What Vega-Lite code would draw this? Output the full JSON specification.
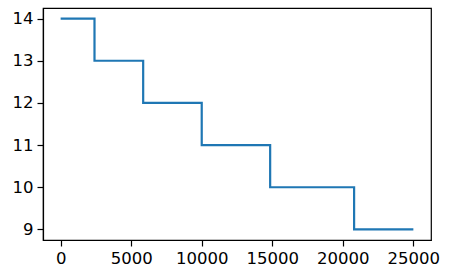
{
  "$schema": "https://vega.github.io/schema/vega-lite/v6.json",
  "width": 388,
  "height": 232,
  "autosize": {"type": "none"},
  "padding": {"left": 43, "top": 8, "right": 19, "bottom": 38},
  "background": "white",
  "config": {
    "view": {"stroke": "black", "strokeWidth": 1.2},
    "axis": {
      "grid": false,
      "domainColor": "black",
      "domainWidth": 1.2,
      "tickColor": "black",
      "tickSize": 6,
      "tickWidth": 1.2,
      "labelFont": "DejaVu Sans",
      "labelFontSize": 16.5,
      "labelColor": "black",
      "labelPadding": 4,
      "title": null
    }
  },
  "data": {
    "values": [
      {"x": 0, "y": 14},
      {"x": 2400, "y": 13},
      {"x": 5850, "y": 12},
      {"x": 10000, "y": 11},
      {"x": 14850, "y": 10},
      {"x": 20800, "y": 9},
      {"x": 25000, "y": 9}
    ]
  },
  "mark": {"type": "line", "interpolate": "step-after", "color": "#1f77b4", "strokeWidth": 2.2},
  "encoding": {
    "x": {
      "field": "x",
      "type": "quantitative",
      "scale": {"domain": [-1250, 26250], "nice": false, "zero": false},
      "axis": {"values": [0, 5000, 10000, 15000, 20000, 25000], "format": "d"}
    },
    "y": {
      "field": "y",
      "type": "quantitative",
      "scale": {"domain": [8.75, 14.25], "nice": false, "zero": false},
      "axis": {"values": [9, 10, 11, 12, 13, 14], "format": "d"}
    }
  }
}
